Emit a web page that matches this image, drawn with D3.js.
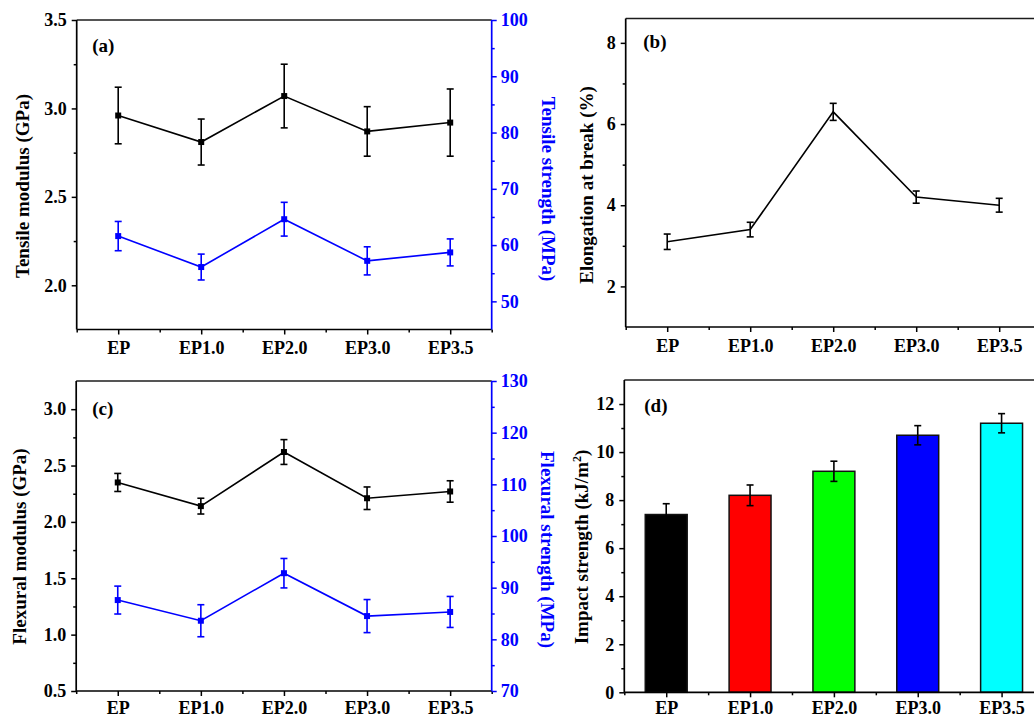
<!DOCTYPE html>
<html>
<head>
<meta charset="utf-8">
<script src="https://cdn.jsdelivr.net/npm/d3@7"></script>
<style>
  html, body { margin: 0; padding: 0; background: #fff; }
  svg { display: block; }
  text { font-family: "Liberation Serif", "Times New Roman", serif; font-weight: bold; }
</style>
</head>
<body>
<svg id="chart" width="1034" height="717"></svg>
<script>
// ---- data ----
const categories = ["EP", "EP1.0", "EP2.0", "EP3.0", "EP3.5"];

const tensileModulus      = [2.96, 2.81, 3.07, 2.87, 2.92];
const tensileModulusErr   = [0.16, 0.13, 0.18, 0.14, 0.19];
const tensileStrength     = [61.6, 56.1, 64.6, 57.2, 58.7];
const tensileStrengthErr  = [2.6, 2.3, 3.0, 2.5, 2.4];

const elongation          = [3.1, 3.4, 6.3, 4.2, 4.0];
const elongationErr       = [0.19, 0.18, 0.21, 0.15, 0.17];

const flexuralModulus     = [2.35, 2.14, 2.62, 2.21, 2.27];
const flexuralModulusErr  = [0.08, 0.07, 0.11, 0.10, 0.095];
const flexuralStrength    = [87.6, 83.6, 92.8, 84.5, 85.3];
const flexuralStrengthErr = [2.7, 3.1, 2.85, 3.2, 3.0];

const impactStrength      = [7.4, 8.2, 9.2, 10.7, 11.2];
const impactStrengthErr   = [0.45, 0.43, 0.42, 0.40, 0.40];
const barColors = ["#000000", "#ff0000", "#00ff00", "#0000ff", "#00ffff"];

// tick values
const ticksTensileModulus  = [2.0, 2.5, 3.0, 3.5];
const minorTensileModulus  = [2.25, 2.75, 3.25];
const ticksTensileStrength = [50, 60, 70, 80, 90, 100];
const minorTensileStrength = [55, 65, 75, 85, 95];
const ticksElongation      = [2, 4, 6, 8];
const minorElongation      = [3, 5, 7];
const ticksFlexModulus     = [0.5, 1.0, 1.5, 2.0, 2.5, 3.0];
const minorFlexModulus     = [0.75, 1.25, 1.75, 2.25, 2.75];
const ticksFlexStrength    = [70, 80, 90, 100, 110, 120, 130];
const minorFlexStrength    = [75, 85, 95, 105, 115, 125];
const ticksImpact          = [0, 2, 4, 6, 8, 10, 12];
const minorImpact          = [1, 3, 5, 7, 9, 11];

// ---- drawing ----
const svg = d3.select("#chart");
const FRAME = "#1c1c1c";
const BLUE = "#0000ff";
const fmt1 = d3.format(".1f");
const fmt0 = d3.format("d");

function styleAxis(sel, color) {
  sel.select(".domain").remove();
  sel.selectAll(".tick line").attr("stroke", color).attr("stroke-width", 1.5);
  sel.selectAll(".tick text")
    .attr("fill", color)
    .style("font-size", "18px")
    .style("font-family", "'Liberation Serif','Times New Roman',serif")
    .style("font-weight", "bold");
}

function drawErrors(g, values, err, x, y, color) {
  const cap = 3.5;
  const eg = g.append("g").attr("stroke", color).attr("stroke-width", 1.6);
  values.forEach((v, i) => {
    const cx = x(categories[i]);
    const yt = y(v + err[i]), yb = y(v - err[i]);
    eg.append("line").attr("x1", cx).attr("x2", cx).attr("y1", yt).attr("y2", yb);
    eg.append("line").attr("x1", cx - cap).attr("x2", cx + cap).attr("y1", yt).attr("y2", yt);
    eg.append("line").attr("x1", cx - cap).attr("x2", cx + cap).attr("y1", yb).attr("y2", yb);
  });
}

function drawPanel(p) {
  const g = svg.append("g");
  const { left, right, top, bottom } = p.box;
  const n = categories.length;

  const x = d3.scalePoint().domain(categories).range([left, right]).padding(0.5);
  const xMinor = d3.scaleLinear().domain([-0.5, n - 0.5]).range([left, right]);
  const yL = d3.scaleLinear().domain(p.leftAxis.domain).range([bottom, top]);
  const yR = p.rightAxis ? d3.scaleLinear().domain(p.rightAxis.domain).range([bottom, top]) : null;

  // bars (panel d)
  if (p.bars) {
    const xb = d3.scaleBand().domain(categories).range([left, right])
      .paddingInner(0.5).paddingOuter(0.25);
    g.append("g").selectAll("rect").data(p.bars.values).join("rect")
      .attr("x", (d, i) => xb(categories[i]))
      .attr("width", xb.bandwidth())
      .attr("y", d => yL(d))
      .attr("height", d => yL(p.leftAxis.domain[0]) - yL(d))
      .attr("fill", (d, i) => p.bars.colors[i])
      .attr("stroke", "#111")
      .attr("stroke-width", 1.5);
    drawErrors(g, p.bars.values, p.bars.err, x, yL, "#000");
  }

  // line series with error bars
  (p.series || []).forEach(s => {
    const ys = s.axis === "right" ? yR : yL;
    g.append("path")
      .datum(s.values)
      .attr("fill", "none")
      .attr("stroke", s.color)
      .attr("stroke-width", 1.6)
      .attr("d", d3.line().x((d, i) => x(categories[i])).y(d => ys(d)));
    drawErrors(g, s.values, s.err, x, ys, s.color);
    if (s.markers) {
      g.append("g").selectAll("rect").data(s.values).join("rect")
        .attr("x", (d, i) => x(categories[i]) - 3)
        .attr("y", d => ys(d) - 3)
        .attr("width", 6).attr("height", 6)
        .attr("fill", s.color);
    }
  });

  // bottom axis: major ticks at categories, minor ticks between them
  g.append("g").attr("transform", `translate(0,${bottom})`)
    .call(d3.axisBottom(x).tickSize(5).tickPadding(p.xPad))
    .call(a => styleAxis(a, "#000"));
  g.append("g").attr("transform", `translate(0,${bottom})`)
    .call(d3.axisBottom(xMinor).tickValues(d3.range(-0.5, n, 1)).tickSize(3).tickFormat(""))
    .call(a => styleAxis(a, "#000"));

  // left axis
  g.append("g").attr("transform", `translate(${left},0)`)
    .call(d3.axisLeft(yL).tickValues(p.leftAxis.ticks).tickFormat(p.leftAxis.format)
      .tickSize(5).tickPadding(5))
    .call(a => styleAxis(a, "#000"));
  g.append("g").attr("transform", `translate(${left},0)`)
    .call(d3.axisLeft(yL).tickValues(p.leftAxis.minor).tickSize(3).tickFormat(""))
    .call(a => styleAxis(a, "#000"));

  // right axis (blue) when a second series is present
  if (yR) {
    g.append("g").attr("transform", `translate(${right},0)`)
      .call(d3.axisRight(yR).tickValues(p.rightAxis.ticks).tickFormat(fmt0)
        .tickSize(5).tickPadding(4))
      .call(a => styleAxis(a, BLUE));
    g.append("g").attr("transform", `translate(${right},0)`)
      .call(d3.axisRight(yR).tickValues(p.rightAxis.minor).tickSize(3).tickFormat(""))
      .call(a => styleAxis(a, BLUE));
  }

  // frame
  const fr = g.append("g").attr("stroke-width", 1.7).attr("fill", "none");
  fr.append("line").attr("x1", left).attr("x2", right).attr("y1", top).attr("y2", top).attr("stroke", FRAME);
  fr.append("line").attr("x1", left).attr("x2", right).attr("y1", bottom).attr("y2", bottom).attr("stroke", "#000");
  fr.append("line").attr("x1", left).attr("x2", left).attr("y1", top).attr("y2", bottom).attr("stroke", "#000");
  fr.append("line").attr("x1", right).attr("x2", right).attr("y1", top).attr("y2", bottom)
    .attr("stroke", yR ? BLUE : FRAME);

  // panel tag
  g.append("text").attr("x", left + p.tag.dx).attr("y", top + p.tag.dy)
    .style("font-size", "19px").attr("fill", "#000").text(p.tag.text);

  // axis titles
  const lt = g.append("text")
    .attr("transform", `translate(${p.leftTitle.x},${p.leftTitle.y}) rotate(-90)`)
    .attr("text-anchor", "middle").style("font-size", "19px").attr("fill", "#000");
  if (p.leftTitle.sup) {
    lt.append("tspan").text(p.leftTitle.text);
    lt.append("tspan").attr("dy", -7).style("font-size", "12px").text(p.leftTitle.sup);
    lt.append("tspan").attr("dy", 7).text(p.leftTitle.tail);
  } else {
    lt.text(p.leftTitle.text);
  }
  if (p.rightTitle) {
    g.append("text")
      .attr("transform", `translate(${p.rightTitle.x},${p.rightTitle.y}) rotate(90)`)
      .attr("text-anchor", "middle").style("font-size", "19px").attr("fill", BLUE)
      .text(p.rightTitle.text);
  }
}

// (a) tensile modulus / tensile strength
drawPanel({
  box: { left: 76.7, right: 491.7, top: 20, bottom: 329.5 },
  xPad: 7,
  leftAxis: { domain: [1.75, 3.5], ticks: ticksTensileModulus, minor: minorTensileModulus, format: fmt1 },
  rightAxis: { domain: [45, 100], ticks: ticksTensileStrength, minor: minorTensileStrength },
  series: [
    { values: tensileModulus, err: tensileModulusErr, color: "#000", axis: "left", markers: true },
    { values: tensileStrength, err: tensileStrengthErr, color: BLUE, axis: "right", markers: true }
  ],
  tag: { text: "(a)", dx: 15.5, dy: 31.7 },
  leftTitle: { text: "Tensile modulus (GPa)", x: 29, y: 186 },
  rightTitle: { text: "Tensile strength (MPa)", x: 541.5, y: 189 }
});

// (b) elongation at break
drawPanel({
  box: { left: 625.7, right: 1040.7, top: 18.5, bottom: 327 },
  xPad: 7,
  leftAxis: { domain: [1, 8.6], ticks: ticksElongation, minor: minorElongation, format: fmt0 },
  series: [
    { values: elongation, err: elongationErr, color: "#000", axis: "left", markers: false }
  ],
  tag: { text: "(b)", dx: 17.6, dy: 29.8 },
  leftTitle: { text: "Elongation at break (%)", x: 593, y: 185 }
});

// (c) flexural modulus / flexural strength
drawPanel({
  box: { left: 76.2, right: 491.7, top: 381, bottom: 691 },
  xPad: 5,
  leftAxis: { domain: [0.5, 3.25], ticks: ticksFlexModulus, minor: minorFlexModulus, format: fmt1 },
  rightAxis: { domain: [70, 130], ticks: ticksFlexStrength, minor: minorFlexStrength },
  series: [
    { values: flexuralModulus, err: flexuralModulusErr, color: "#000", axis: "left", markers: true },
    { values: flexuralStrength, err: flexuralStrengthErr, color: BLUE, axis: "right", markers: true }
  ],
  tag: { text: "(c)", dx: 16, dy: 34 },
  leftTitle: { text: "Flexural modulus (GPa)", x: 26, y: 546.5 },
  rightTitle: { text: "Flexural strength (MPa)", x: 541, y: 549.5 }
});

// (d) impact strength bars
drawPanel({
  box: { left: 624.3, right: 1043.5, top: 380, bottom: 692.3 },
  xPad: 4,
  leftAxis: { domain: [0, 13], ticks: ticksImpact, minor: minorImpact, format: fmt0 },
  bars: { values: impactStrength, err: impactStrengthErr, colors: barColors },
  tag: { text: "(d)", dx: 20, dy: 31.7 },
  leftTitle: { text: "Impact strength (kJ/m", sup: "2", tail: ")", x: 588, y: 547 }
});
</script>
</body>
</html>
